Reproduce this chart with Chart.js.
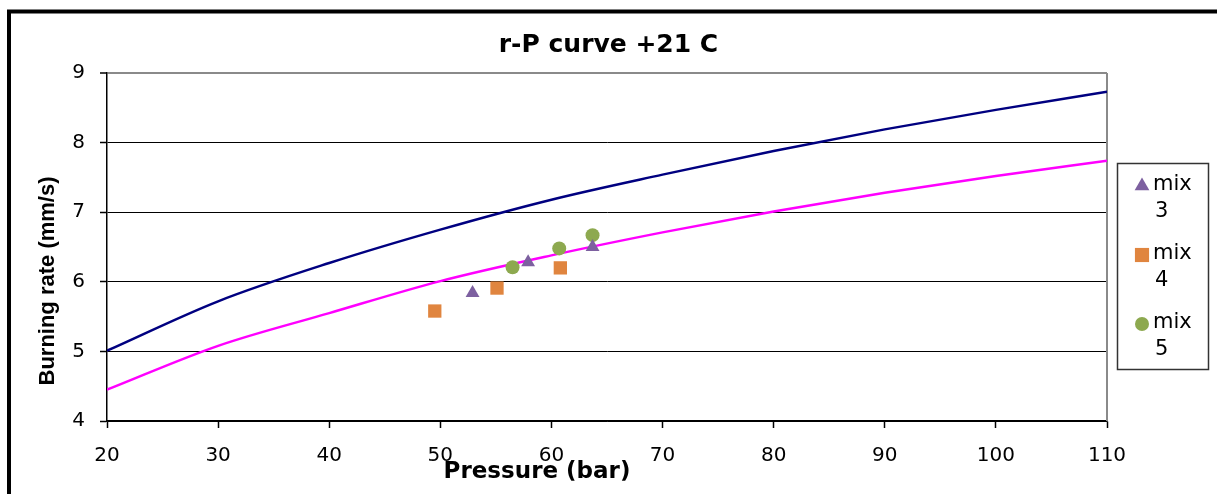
<!DOCTYPE html>
<html>
<head>
<meta charset="utf-8">
<script src="https://cdn.jsdelivr.net/npm/chart.js@4.4.1/dist/chart.umd.min.js"></script>
<style>
  html, body { margin: 0; padding: 0; background: #fff; }
  #wrap { width: 1217px; height: 494px; position: relative; }
  canvas { display: block; }
</style>
</head>
<body>
<div id="wrap"><canvas id="chart" width="1217" height="494"></canvas></div>
<script>
// Fitted burning-rate curves, sampled every 10 bar
const pressureGrid = [20, 30, 40, 50, 60, 70, 80, 90, 100, 110];
const upperCurve   = [5.01, 5.72, 6.27, 6.75, 7.18, 7.54, 7.88, 8.19, 8.47, 8.73];
const lowerCurve   = [4.45, 5.08, 5.55, 6.01, 6.38, 6.71, 7.01, 7.28, 7.52, 7.74];

// Measured points for each mix: pressure (bar) and burning rate (mm/s)
const mix3Pressure = [52.9, 57.9, 63.7];
const mix3Rate     = [5.84, 6.28, 6.50];
const mix4Pressure = [49.5, 55.1, 60.8];
const mix4Rate     = [5.58, 5.91, 6.20];
const mix5Pressure = [56.5, 60.7, 63.7];
const mix5Rate     = [6.21, 6.48, 6.67];

// Axis ticks
const xTicks = [20, 30, 40, 50, 60, 70, 80, 90, 100, 110];
const yTicks = [4, 5, 6, 7, 8, 9];

const toPoints = (xs, ys) => xs.map((x, i) => ({ x: x, y: ys[i] }));

const SANS = "'DejaVu Sans', 'Liberation Sans', Arial, sans-serif";
const ARIAL = "'Liberation Sans', Arial, sans-serif";

function markerDataset(label, xs, ys, style, radius, color, order) {
  return {
    label: label,
    data: toPoints(xs, ys),
    showLine: false,
    pointStyle: style,
    pointRadius: radius,
    pointHoverRadius: radius,
    pointBackgroundColor: color,
    pointBorderColor: color,
    pointBorderWidth: 0,
    backgroundColor: color,
    borderColor: color,
    order: order
  };
}

function curveDataset(label, ys, color, order) {
  return {
    label: label,
    data: toPoints(pressureGrid, ys),
    showLine: true,
    borderColor: color,
    backgroundColor: color,
    borderWidth: 2.5,
    pointRadius: 0,
    pointHoverRadius: 0,
    cubicInterpolationMode: 'monotone',
    fill: false,
    order: order
  };
}

// Page frame, plot outline, axis titles and the legend box
const decorations = {
  id: 'decorations',
  beforeDraw(chart) {
    const ctx = chart.ctx;
    ctx.save();
    ctx.fillStyle = '#fff';
    ctx.fillRect(0, 0, chart.width, chart.height);
    ctx.strokeStyle = '#000';
    ctx.lineWidth = 4;
    ctx.beginPath();
    ctx.moveTo(9, chart.height + 5);
    ctx.lineTo(9, 11.5);
    ctx.lineTo(chart.width + 5, 11.5);
    ctx.stroke();
    ctx.restore();
  },
  beforeDatasetsDraw(chart) {
    const { ctx, chartArea } = chart;
    ctx.save();
    ctx.strokeStyle = '#8a8a8a';
    ctx.lineWidth = 2;
    ctx.beginPath();
    ctx.moveTo(chartArea.right, chartArea.top);
    ctx.lineTo(chartArea.right, chartArea.bottom);
    ctx.stroke();
    ctx.restore();
  },
  afterDraw(chart) {
    const ctx = chart.ctx;
    ctx.save();
    ctx.fillStyle = '#000';

    // Axis titles
    ctx.textAlign = 'center';
    ctx.textBaseline = 'middle';
    ctx.font = "bold 23px " + SANS;
    ctx.fillText('Pressure (bar)', 537, 472);

    ctx.save();
    ctx.translate(48, 281);
    ctx.rotate(-Math.PI / 2);
    ctx.font = "bold 22px " + ARIAL;
    ctx.fillText('Burning rate (mm/s)', 0, 0);
    ctx.restore();

    // Legend
    ctx.strokeStyle = '#333';
    ctx.lineWidth = 1.5;
    ctx.strokeRect(1117.5, 163.5, 91, 206);

    const entries = chart.data.datasets.filter(d => d.showLine === false);
    const legendRadius = { triangle: 8.5, rect: 10, circle: 7 };
    entries.forEach((d, i) => {
      const cy = 185 + i * 69;
      ctx.fillStyle = d.pointBackgroundColor;
      ctx.strokeStyle = d.pointBackgroundColor;
      Chart.helpers.drawPoint(ctx, {
        pointStyle: d.pointStyle,
        radius: legendRadius[d.pointStyle],
        rotation: 0,
        borderWidth: 0
      }, 1142, cy + 1);
      const parts = d.label.split(' ');
      ctx.fillStyle = '#000';
      ctx.textAlign = 'left';
      ctx.textBaseline = 'middle';
      ctx.font = "21px " + SANS;
      ctx.fillText(parts[0], 1153, cy);
      ctx.fillText(parts[1], 1155, cy + 27);
    });
    ctx.restore();
  }
};

new Chart(document.getElementById('chart').getContext('2d'), {
  type: 'scatter',
  data: {
    datasets: [
      markerDataset('mix 3', mix3Pressure, mix3Rate, 'triangle', 8, '#7D60A0', 0),
      markerDataset('mix 4', mix4Pressure, mix4Rate, 'rect', 9.4, '#E0853F', 2),
      markerDataset('mix 5', mix5Pressure, mix5Rate, 'circle', 7, '#8DA94F', 1),
      curveDataset('upper curve', upperCurve, '#000080', 3),
      curveDataset('lower curve', lowerCurve, '#FF00FF', 4)
    ]
  },
  options: {
    responsive: false,
    animation: false,
    devicePixelRatio: 1,
    layout: { padding: 0 },
    font: { family: SANS },
    plugins: {
      legend: { display: false },
      tooltip: { enabled: false },
      title: {
        display: true,
        text: 'r-P curve +21 C',
        color: '#000',
        font: { family: SANS, size: 25, weight: 'bold' },
        padding: { top: 30, bottom: 13 }
      }
    },
    scales: {
      x: {
        type: 'linear',
        min: 20,
        max: 110,
        afterBuildTicks: s => { s.ticks = xTicks.map(v => ({ value: v })); },
        afterFit: s => { s.height = 73; },
        ticks: {
          color: '#000',
          font: { family: SANS, size: 20 },
          padding: 16,
          maxRotation: 0,
          autoSkip: false
        },
        grid: {
          drawOnChartArea: false,
          drawTicks: true,
          tickLength: 7,
          tickColor: '#000',
          tickWidth: 1.5
        },
        border: { color: '#000', width: 1.5 }
      },
      y: {
        type: 'linear',
        min: 4,
        max: 9,
        afterBuildTicks: s => { s.ticks = yTicks.map(v => ({ value: v })); },
        afterFit: s => { s.width = 107; },
        ticks: {
          color: '#000',
          font: { family: SANS, size: 20 },
          padding: 15
        },
        grid: {
          color: c => (c.tick && c.tick.value === 9) ? '#8a8a8a' : '#000',
          lineWidth: c => (c.tick && c.tick.value === 9) ? 2 : 1,
          tickLength: 7,
          tickColor: '#000',
          tickWidth: 1.5
        },
        border: { color: '#000', width: 1.5 }
      },
      legendSpace: {
        type: 'linear',
        position: 'right',
        display: true,
        grid: { display: false },
        ticks: { display: false },
        border: { display: false },
        afterFit: s => { s.width = 110; }
      }
    }
  },
  plugins: [decorations]
});
</script>
</body>
</html>
